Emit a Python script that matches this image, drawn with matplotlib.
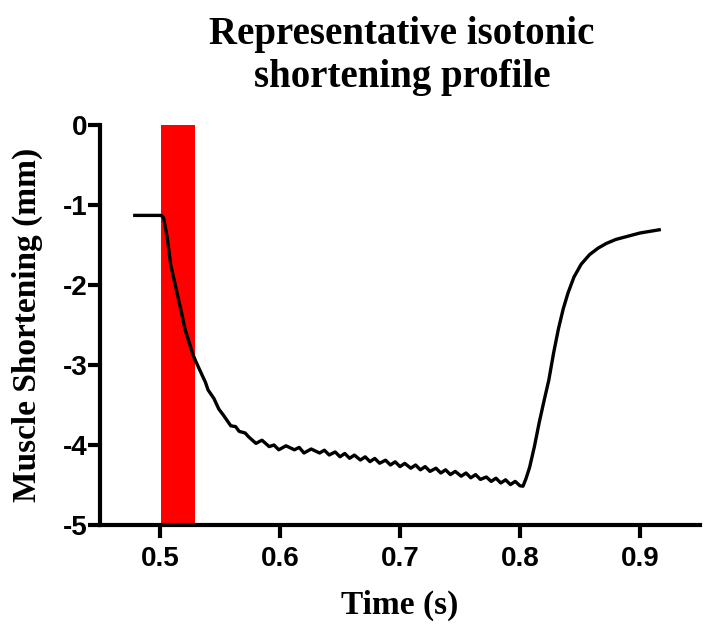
import matplotlib
matplotlib.use("Agg")
import matplotlib.pyplot as plt

# stimulus window (s)
stim = [0.501, 0.529]

# shortening trace
time = [0.479, 0.501, 0.503, 0.506, 0.509, 0.512, 0.515, 0.518, 0.521, 0.524,
        0.527, 0.530, 0.534, 0.538, 0.540, 0.545, 0.549, 0.553, 0.559, 0.563,
        0.566, 0.571, 0.574, 0.580, 0.585, 0.591, 0.595, 0.599, 0.605, 0.612,
        0.616, 0.620, 0.626, 0.633,
        0.637, 0.641, 0.646, 0.650, 0.654, 0.658, 0.662, 0.667, 0.671, 0.675,
        0.679, 0.683, 0.688, 0.692, 0.696, 0.700, 0.704, 0.709, 0.713, 0.717,
        0.721, 0.725, 0.730, 0.734, 0.738, 0.742, 0.746, 0.751, 0.755, 0.759,
        0.763, 0.767, 0.772, 0.776, 0.780, 0.784, 0.788, 0.792, 0.796, 0.800,
        0.8025, 0.805, 0.808, 0.812, 0.816, 0.820, 0.824, 0.828, 0.832, 0.836,
        0.840, 0.845, 0.851, 0.858, 0.865, 0.872, 0.880, 0.890, 0.900, 0.908,
        0.916]
shortening = [-1.13, -1.13, -1.16, -1.40, -1.75, -1.95, -2.15, -2.35, -2.56, -2.70,
              -2.85, -2.96, -3.09, -3.22, -3.31, -3.42, -3.55, -3.63, -3.76, -3.77,
              -3.83, -3.85, -3.90, -3.98, -3.94, -4.02, -4.00, -4.06, -4.01, -4.06,
              -4.03, -4.10, -4.05, -4.10,
              -4.065, -4.125, -4.087, -4.147, -4.106, -4.166, -4.126, -4.188, -4.148, -4.208,
              -4.168, -4.228, -4.19, -4.25, -4.21, -4.27, -4.23, -4.29, -4.25, -4.31,
              -4.27, -4.33, -4.29, -4.35, -4.31, -4.37, -4.33, -4.39, -4.35, -4.41,
              -4.37, -4.43, -4.40, -4.455, -4.415, -4.475, -4.435, -4.495, -4.455, -4.51,
              -4.515, -4.42, -4.28, -4.02, -3.72, -3.45, -3.19, -2.85, -2.55, -2.30,
              -2.10, -1.90, -1.74, -1.62, -1.54, -1.48, -1.43, -1.39, -1.35, -1.33,
              -1.31]

fig = plt.figure(figsize=(7.08, 6.25), dpi=100)
ax = fig.add_axes([0.1412, 0.16, 0.8475, 0.64])

ax.axvspan(stim[0], stim[1], ymin=0.005, ymax=1, color='#ff0000', lw=0, zorder=1)
ax.plot(time, shortening, color='black', lw=2.4, zorder=3)

ax.set_xlim(0.45, 0.95)
ax.set_ylim(-5, 0)
ax.set_xticks([0.5, 0.6, 0.7, 0.8, 0.9])
ax.set_xticklabels(['0.5', '0.6', '0.7', '0.8', '0.9'])
ax.set_yticks([0, -1, -2, -3, -4, -5])
ax.set_yticklabels(['0', '-1', '-2', '-3', '-4', '-5'])

for s in ['top', 'right']:
    ax.spines[s].set_visible(False)
for s in ['left', 'bottom']:
    ax.spines[s].set_linewidth(3)
ax.tick_params(width=3, length=9, direction='out')
ax.tick_params(axis='x', pad=6)
ax.tick_params(axis='y', pad=0)
for lab in ax.get_xticklabels() + ax.get_yticklabels():
    lab.set_fontfamily('Liberation Sans')
    lab.set_fontweight('bold')
    lab.set_fontsize(20)

ax.set_xlabel('Time (s)', family='Liberation Serif', fontweight='bold', fontsize=24, labelpad=13)
ax.set_ylabel('Muscle Shortening (mm)', family='Liberation Serif', fontweight='bold', fontsize=24, labelpad=14)
fig.text(0.568, 0.974, 'Representative isotonic\nshortening profile', ha='center', va='top',
         family='Liberation Serif', fontweight='bold', fontsize=28, linespacing=1.2)

fig.savefig('out.png', dpi=100)
